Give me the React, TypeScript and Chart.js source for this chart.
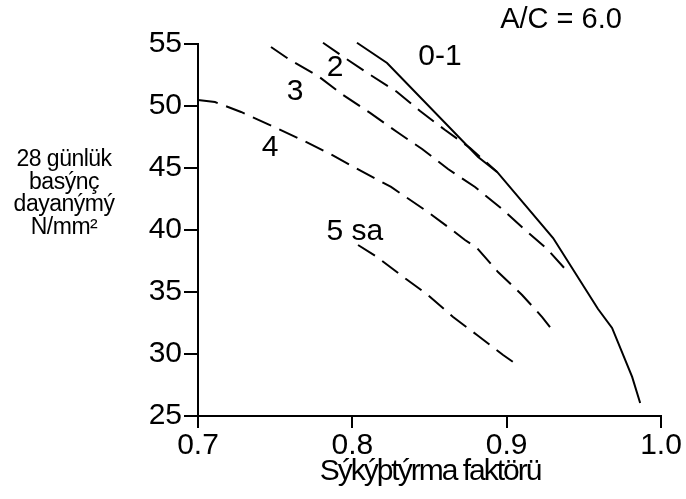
import React, { useEffect, useRef } from "react";
import { Chart, registerables } from "chart.js";

Chart.register(...registerables);

// Tick values
const xTickValues = [0.7, 0.8, 0.9, 1.0];
const yMin = 25;
const yMax = 55;
const yStep = 5;

// Curve "0-1" (solid)
const curve01X = [0.803, 0.8225, 0.8815, 0.8938, 0.9301, 0.9592, 0.9683, 0.9813, 0.9865];
const curve01Y = [55.1, 53.47, 45.89, 44.68, 39.35, 33.63, 32.1, 28.15, 26.05];

// Curve "2"
const curve2X = [0.781, 0.7953, 0.8128, 0.829, 0.8439, 0.8601, 0.8763, 0.8938];
const curve2Y = [55.1, 53.87, 52.42, 51.13, 49.6, 48.06, 46.61, 44.68];

// Curve "3"
const curve3X = [0.7473, 0.7596, 0.7778, 0.794, 0.8115, 0.829, 0.8452, 0.862, 0.8795, 0.897, 0.9106, 0.9262, 0.9391];
const curve3Y = [54.76, 53.71, 52.42, 50.89, 49.44, 47.9, 46.53, 44.92, 43.47, 41.69, 40.16, 38.47, 36.69];

// Curve "4"
const curve4X = [0.7, 0.711, 0.7279, 0.748, 0.7674, 0.7868, 0.8056, 0.8251, 0.849, 0.8646, 0.873, 0.8808, 0.8944, 0.91, 0.923, 0.9301];
const curve4Y = [50.48, 50.32, 49.52, 48.39, 47.26, 46.05, 44.76, 43.47, 41.45, 40.0, 39.19, 38.55, 36.61, 34.76, 32.98, 31.85];

// Curve "5 sa"
const curve5X = [0.8037, 0.816, 0.8322, 0.849, 0.8653, 0.8808, 0.8977, 0.9061];
const curve5Y = [38.79, 37.82, 36.29, 34.76, 32.98, 31.53, 29.92, 29.19];

// Curve labels (text and anchor in data units)
const curveLabelTexts = ["0-1", "2", "3", "4", "5 sa"];
const curveLabelX = [0.8568, 0.7888, 0.7629, 0.7467, 0.8017];
const curveLabelY = [53.95, 53.06, 51.13, 46.61, 39.84];

const yTitleLines = ["28 günlük", "basýnç", "dayanýmý", "N/mm²"];
const xTitle = "Sýkýþtýrma faktörü";
const ratioText = "A/C = 6.0";

const FONT = "'Liberation Sans', Arial, sans-serif";

function pts(xs: number[], ys: number[]) {
  return xs.map((x, i) => ({ x, y: ys[i] }));
}

const textPlugin = {
  id: "textPlugin",
  afterDraw(chart: any) {
    const ctx = chart.ctx;
    const xs = chart.scales.x;
    const ys = chart.scales.y;
    ctx.save();
    ctx.fillStyle = "#000";
    ctx.textAlign = "center";
    ctx.textBaseline = "middle";
    ctx.font = `30px ${FONT}`;
    curveLabelTexts.forEach((t, i) => {
      ctx.fillText(t, xs.getPixelForValue(curveLabelX[i]), ys.getPixelForValue(curveLabelY[i]));
    });
    // ratio text
    ctx.font = `29px ${FONT}`;
    ctx.fillText(ratioText, 561, 20);
    // y title
    ctx.font = `23px ${FONT}`;
    (ctx as any).letterSpacing = "-0.5px";
    yTitleLines.forEach((l, i) => {
      ctx.fillText(l, 64, 160 + i * 22.5);
    });
    // x title
    ctx.font = `30px ${FONT}`;
    (ctx as any).letterSpacing = "-2px";
    ctx.fillText(xTitle, 430, 472);
    (ctx as any).letterSpacing = "0px";
    ctx.restore();
  },
};

export default function App() {
  const ref = useRef<HTMLCanvasElement | null>(null);
  useEffect(() => {
    if (!ref.current) return;
    const solid = { borderColor: "#000", borderWidth: 2, pointRadius: 0, showLine: true, tension: 0, fill: false, clip: false as any };
    const dashed = { ...solid, borderDash: [20, 9] };
    const chart = new Chart(ref.current, {
      type: "scatter",
      data: {
        datasets: [
          { label: "0-1", data: pts(curve01X, curve01Y), ...solid },
          { label: "2", data: pts(curve2X, curve2Y), ...dashed },
          { label: "3", data: pts(curve3X, curve3Y), ...dashed },
          { label: "4", data: pts(curve4X, curve4Y), ...dashed },
          { label: "5 sa", data: pts(curve5X, curve5Y), ...dashed },
        ] as any,
      },
      options: {
        animation: false,
        responsive: false,
        layout: { padding: { left: 0, right: 25, top: 44, bottom: 0 } },
        plugins: { legend: { display: false }, tooltip: { enabled: false } },
        scales: {
          x: {
            type: "linear",
            min: 0.7,
            max: 1.0,
            afterBuildTicks: (scale: any) => {
              scale.ticks = xTickValues.map((v) => ({ value: v }));
            },
            afterFit: (scale: any) => {
              scale.height = 83;
            },
            ticks: {
              color: "#000",
              font: { family: FONT, size: 30 },
              padding: 0,
              maxRotation: 0,
              callback: (v: any) => Number(v).toFixed(1),
            },
            grid: { display: true, drawOnChartArea: false, drawTicks: true, tickLength: 12, color: "#000", lineWidth: 2 },
            border: { display: true, color: "#000", width: 2 },
          },
          y: {
            type: "linear",
            min: yMin,
            max: yMax,
            afterFit: (scale: any) => {
              scale.width = 198;
            },
            ticks: {
              stepSize: yStep,
              color: "#000",
              font: { family: FONT, size: 30 },
              padding: 2,
            },
            grid: { display: true, drawOnChartArea: false, drawTicks: true, tickLength: 14, color: "#000", lineWidth: 2 },
            border: { display: true, color: "#000", width: 2 },
          },
        },
      },
      plugins: [textPlugin],
    });
    return () => chart.destroy();
  }, []);
  return (
    <div style={{ position: "absolute", left: 0, top: 0, width: 686, height: 499, background: "#fff" }}>
      <canvas ref={ref} width={686} height={499} style={{ width: 686, height: 499 }} />
    </div>
  );
}
